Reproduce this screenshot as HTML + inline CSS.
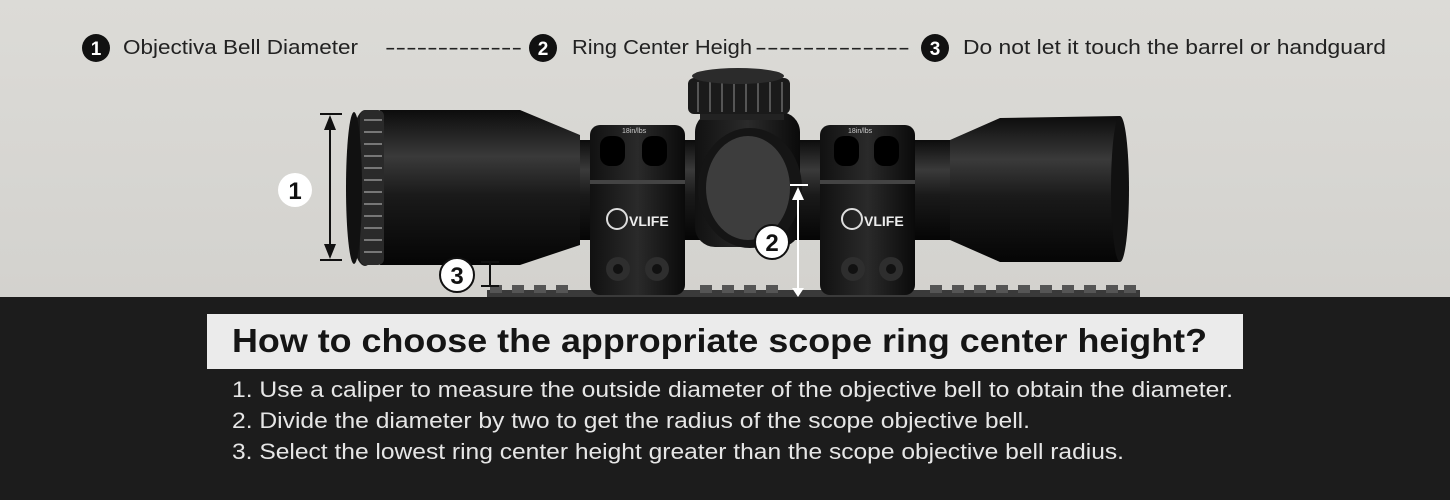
<!DOCTYPE html>
<html><head><meta charset="utf-8"><style>html,body{margin:0;padding:0;}svg{display:block}</style></head>
<body>
<svg width="1450" height="500" viewBox="0 0 1450 500" xmlns="http://www.w3.org/2000/svg" font-family="'Liberation Sans Narrow','Liberation Sans',sans-serif">
<defs>
<linearGradient id="bg" x1="0" y1="0" x2="0" y2="1"><stop offset="0" stop-color="#dcdbd7"/><stop offset="1" stop-color="#d3d2ce"/></linearGradient>
<linearGradient id="cyl" x1="0" y1="0" x2="0" y2="1"><stop offset="0" stop-color="#0c0c0c"/><stop offset="0.3" stop-color="#3a3a3a"/><stop offset="0.55" stop-color="#1a1a1a"/><stop offset="1" stop-color="#050505"/></linearGradient>
<linearGradient id="ring" x1="0" y1="0" x2="1" y2="0"><stop offset="0" stop-color="#111"/><stop offset="0.5" stop-color="#2a2a2a"/><stop offset="1" stop-color="#0a0a0a"/></linearGradient>
</defs>
<rect width="1450" height="297" fill="url(#bg)"/>
<rect y="297" width="1450" height="203" fill="#1c1c1c"/>

<!-- top labels -->
<g font-size="20" fill="#222">
<circle cx="96" cy="48" r="14" fill="#111"/><text x="96" y="55" fill="#fff" font-size="19" font-weight="bold" text-anchor="middle">1</text>
<text x="123" y="54" textLength="235" lengthAdjust="spacingAndGlyphs">Objectiva Bell Diameter</text>
<text x="385" y="54" textLength="137" lengthAdjust="spacingAndGlyphs">-------------</text>
<circle cx="543" cy="48" r="14" fill="#111"/><text x="543" y="55" fill="#fff" font-size="19" font-weight="bold" text-anchor="middle">2</text>
<text x="572" y="54" textLength="180" lengthAdjust="spacingAndGlyphs">Ring Center Heigh</text>
<text x="755" y="54" textLength="155" lengthAdjust="spacingAndGlyphs">-------------</text>
<circle cx="935" cy="48" r="14" fill="#111"/><text x="935" y="55" fill="#fff" font-size="19" font-weight="bold" text-anchor="middle">3</text>
<text x="963" y="54" textLength="423" lengthAdjust="spacingAndGlyphs">Do not let it touch the barrel or handguard</text>
</g>

<!-- rail -->
<rect x="487" y="290" width="653" height="7" fill="#3a3a3a"/>
<g fill="#555">
<rect x="490" y="285" width="12" height="8"/><rect x="512" y="285" width="12" height="8"/><rect x="534" y="285" width="12" height="8"/><rect x="556" y="285" width="12" height="8"/>
<rect x="700" y="285" width="12" height="8"/><rect x="722" y="285" width="12" height="8"/><rect x="744" y="285" width="12" height="8"/><rect x="766" y="285" width="12" height="8"/>
<rect x="930" y="285" width="12" height="8"/><rect x="952" y="285" width="12" height="8"/><rect x="974" y="285" width="12" height="8"/><rect x="996" y="285" width="12" height="8"/><rect x="1018" y="285" width="12" height="8"/><rect x="1040" y="285" width="12" height="8"/><rect x="1062" y="285" width="12" height="8"/><rect x="1084" y="285" width="12" height="8"/><rect x="1106" y="285" width="12" height="8"/><rect x="1124" y="285" width="12" height="8"/>
</g>

<!-- main tube -->
<rect x="570" y="140" width="440" height="100" fill="url(#cyl)"/>
<!-- objective bell -->
<path d="M380 110 L520 110 L580 135 L580 245 L520 265 L380 265 Z" fill="url(#cyl)"/>
<ellipse cx="365" cy="188" rx="18" ry="78" fill="#1a1a1a"/>
<rect x="360" y="110" width="24" height="155" rx="6" fill="#2a2a2a"/>
<g stroke="#777" stroke-width="2">
<line x1="364" y1="120" x2="382" y2="120"/><line x1="364" y1="132" x2="382" y2="132"/><line x1="364" y1="144" x2="382" y2="144"/><line x1="364" y1="156" x2="382" y2="156"/><line x1="364" y1="168" x2="382" y2="168"/><line x1="364" y1="180" x2="382" y2="180"/><line x1="364" y1="192" x2="382" y2="192"/><line x1="364" y1="204" x2="382" y2="204"/><line x1="364" y1="216" x2="382" y2="216"/><line x1="364" y1="228" x2="382" y2="228"/><line x1="364" y1="240" x2="382" y2="240"/><line x1="364" y1="252" x2="382" y2="252"/>
</g>
<ellipse cx="354" cy="188" rx="8" ry="76" fill="#111"/>
<!-- eyepiece -->
<path d="M950 140 L1000 118 L1120 116 L1120 262 L1000 262 L950 240 Z" fill="url(#cyl)"/>
<ellipse cx="1120" cy="189" rx="9" ry="73" fill="#111"/>
<!-- turret -->
<rect x="695" y="112" width="105" height="135" rx="20" fill="url(#ring)"/>
<rect x="700" y="95" width="84" height="25" fill="#222"/>
<rect x="688" y="78" width="102" height="36" rx="6" fill="#1a1a1a"/>
<g stroke="#555" stroke-width="2"><line x1="698" y1="82" x2="698" y2="112"/><line x1="710" y1="82" x2="710" y2="112"/><line x1="722" y1="82" x2="722" y2="112"/><line x1="734" y1="82" x2="734" y2="112"/><line x1="746" y1="82" x2="746" y2="112"/><line x1="758" y1="82" x2="758" y2="112"/><line x1="770" y1="82" x2="770" y2="112"/><line x1="782" y1="82" x2="782" y2="112"/></g>
<ellipse cx="738" cy="76" rx="46" ry="8" fill="#2b2b2b"/>
<ellipse cx="750" cy="188" rx="52" ry="60" fill="#151515"/>
<ellipse cx="748" cy="188" rx="42" ry="52" fill="#3d3d3d"/>

<!-- rings -->
<g>
<rect x="590" y="125" width="95" height="170" rx="10" fill="url(#ring)"/>
<rect x="590" y="180" width="95" height="4" fill="#444"/>
<rect x="600" y="136" width="25" height="30" rx="10" fill="#000"/><rect x="642" y="136" width="25" height="30" rx="10" fill="#000"/>
<text x="622" y="133" font-size="7" fill="#ccc">18in/lbs</text>
<circle cx="617" cy="219" r="10" fill="none" stroke="#ddd" stroke-width="2"/><text x="629" y="226" font-size="14" font-weight="bold" fill="#eee">VLIFE</text>
<circle cx="618" cy="269" r="12" fill="#2e2e2e"/><circle cx="657" cy="269" r="12" fill="#2e2e2e"/>
<circle cx="618" cy="269" r="5" fill="#111"/><circle cx="657" cy="269" r="5" fill="#111"/>
</g>
<g>
<rect x="820" y="125" width="95" height="170" rx="10" fill="url(#ring)"/>
<rect x="820" y="180" width="95" height="4" fill="#444"/>
<rect x="834" y="136" width="25" height="30" rx="10" fill="#000"/><rect x="874" y="136" width="25" height="30" rx="10" fill="#000"/>
<text x="848" y="133" font-size="7" fill="#ccc">18in/lbs</text>
<circle cx="852" cy="219" r="10" fill="none" stroke="#ddd" stroke-width="2"/><text x="864" y="226" font-size="14" font-weight="bold" fill="#eee">VLIFE</text>
<circle cx="853" cy="269" r="12" fill="#2e2e2e"/><circle cx="891" cy="269" r="12" fill="#2e2e2e"/>
<circle cx="853" cy="269" r="5" fill="#111"/><circle cx="891" cy="269" r="5" fill="#111"/>
</g>

<!-- dimension 1 -->
<g stroke="#111" stroke-width="2"><line x1="320" y1="114" x2="342" y2="114"/><line x1="320" y1="260" x2="342" y2="260"/><line x1="330" y1="120" x2="330" y2="254"/></g>
<path d="M330 115 L324 130 L336 130 Z M330 259 L324 244 L336 244 Z" fill="#111"/>
<circle cx="295" cy="190" r="17" fill="#fff"/><text x="295" y="199" text-anchor="middle" font-size="24" font-weight="bold" fill="#111">1</text>
<!-- dimension 2 -->
<g stroke="#fff" stroke-width="2"><line x1="790" y1="185" x2="808" y2="185"/><line x1="798" y1="192" x2="798" y2="292"/></g>
<path d="M798 187 L792 200 L804 200 Z M798 297 L792 288 L804 288 Z" fill="#fff"/>
<circle cx="772" cy="242" r="17" fill="#fff" stroke="#111" stroke-width="2"/><text x="772" y="251" text-anchor="middle" font-size="24" font-weight="bold" fill="#111">2</text>
<!-- dimension 3 -->
<g stroke="#111" stroke-width="2"><line x1="481" y1="262" x2="499" y2="262"/><line x1="481" y1="286" x2="499" y2="286"/><line x1="490" y1="262" x2="490" y2="286"/></g>
<circle cx="457" cy="275" r="17" fill="#fff" stroke="#111" stroke-width="2"/><text x="457" y="284" text-anchor="middle" font-size="24" font-weight="bold" fill="#111">3</text>

<!-- bottom -->
<rect x="207" y="314" width="1036" height="55" fill="#ebebeb"/>
<text x="232" y="352" font-size="33" font-weight="bold" fill="#151515" textLength="975" lengthAdjust="spacingAndGlyphs">How to choose the appropriate scope ring center height?</text>
<g font-size="22" fill="#e6e6e6">
<text x="232" y="397" textLength="1001" lengthAdjust="spacingAndGlyphs">1. Use a caliper to measure the outside diameter of the objective bell to obtain the diameter.</text>
<text x="232" y="428" textLength="798" lengthAdjust="spacingAndGlyphs">2. Divide the diameter by two to get the radius of the scope objective bell.</text>
<text x="232" y="459" textLength="892" lengthAdjust="spacingAndGlyphs">3. Select the lowest ring center height greater than the scope objective bell radius.</text>
</g>
</svg>
</body></html>
